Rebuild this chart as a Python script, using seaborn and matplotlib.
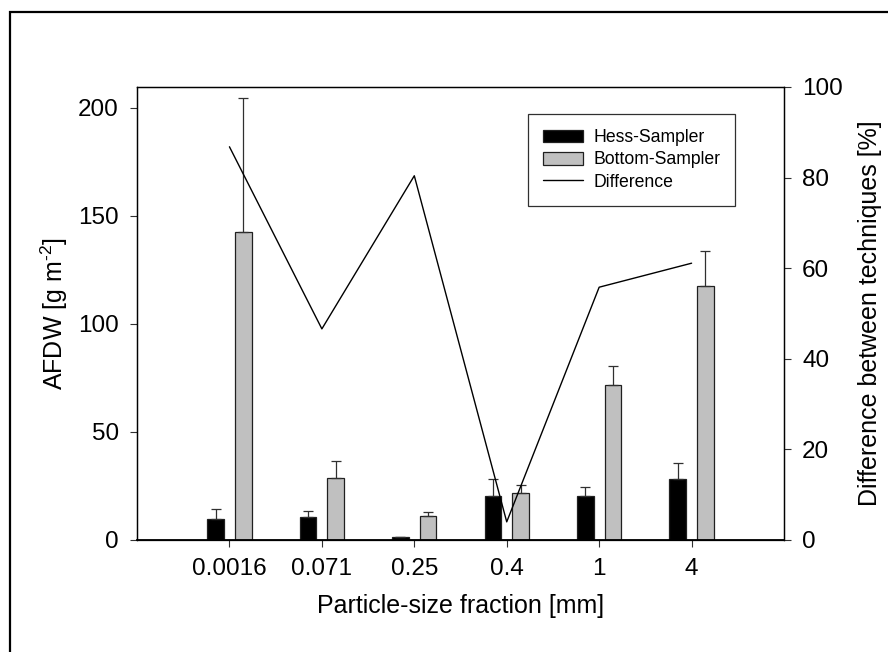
import numpy as np
import pandas as pd
import matplotlib
matplotlib.use("Agg")
import matplotlib.pyplot as plt
from matplotlib.patches import Rectangle, Patch
from matplotlib.lines import Line2D
import seaborn as sns

# Particle-size fractions (mm) and AFDW per sampler (g m^-2)
fractions = ["0.0016", "0.071", "0.25", "0.4", "1", "4"]
hess_mean = [9.7, 10.6, 1.4, 20.4, 20.4, 28.2]
hess_err = [4.6, 2.8, 0.0, 7.8, 4.1, 7.4]
bottom_mean = [142.6, 28.7, 11.1, 21.8, 71.8, 117.6]
bottom_err = [62.0, 7.9, 1.9, 3.7, 8.8, 16.2]
# Relative difference between the two techniques (%)
difference = [86.8, 46.6, 80.4, 4.0, 55.8, 61.1]

samplers = ["Hess-Sampler", "Bottom-Sampler"]
colors = ["#000000", "#c0c0c0"]

sns.set_style("ticks")
plt.rcParams["font.family"] = ["Liberation Sans", "DejaVu Sans"]
plt.rcParams["mathtext.fontset"] = "custom"
plt.rcParams["mathtext.rm"] = "Liberation Sans"
plt.rcParams["mathtext.default"] = "regular"
for key in ("text.color", "axes.labelcolor", "xtick.labelcolor", "ytick.labelcolor"):
    plt.rcParams[key] = "black"

df = pd.DataFrame({
    "fraction": fractions * 2,
    "afdw": hess_mean + bottom_mean,
    "sampler": [samplers[0]] * len(fractions) + [samplers[1]] * len(fractions),
})

fig = plt.figure(figsize=(8.88, 6.52), dpi=100)
ax = fig.add_axes([0.1543, 0.1718, 0.7286, 0.6948])

sns.barplot(data=df, x="fraction", y="afdw", hue="sampler", order=fractions,
            hue_order=samplers, palette=colors, width=0.6, gap=0.4,
            errorbar=None, edgecolor="#202020", linewidth=0.9, legend=False,
            ax=ax)

# upper error bars on each bar
for cont, errs in zip(ax.containers, [hess_err, bottom_err]):
    xs = [b.get_x() + b.get_width() / 2 for b in cont]
    hs = [b.get_height() for b in cont]
    ax.errorbar(xs, hs, yerr=[np.zeros(len(errs)), errs], fmt="none",
                ecolor="#303030", elinewidth=0.9, capsize=3.3, capthick=0.9,
                zorder=1)

ax2 = ax.twinx()
positions = np.arange(len(fractions))
sns.lineplot(x=positions, y=difference, ax=ax2, color="black", linewidth=1.0)

ax.set_xlim(-1, 6)
ax.set_ylim(0, 209.7)
ax2.set_ylim(0, 100)
ax.set_yticks([0, 50, 100, 150, 200])
ax2.set_yticks([0, 20, 40, 60, 80, 100])

fs = 18
ax.set_xlabel("Particle-size fraction [mm]", fontsize=fs, labelpad=10)
ax.set_ylabel(r"AFDW [g m$^{\text{-}2}$]", fontsize=fs, labelpad=6)
ax2.set_ylabel("Difference between techniques [%]", fontsize=fs, labelpad=11)

for a in (ax, ax2):
    a.tick_params(axis="both", direction="out", length=5, width=0.8,
                  color="#303030", labelsize=17.5, labelcolor="black", pad=8)
    for s in a.spines.values():
        s.set_visible(True)
        s.set_color("black")
        s.set_linewidth(0.9)
ax.spines["bottom"].set_linewidth(1.3)

handles = [
    Patch(facecolor=colors[0], edgecolor="#202020", linewidth=0.9, label=samplers[0]),
    Patch(facecolor=colors[1], edgecolor="#202020", linewidth=0.9, label=samplers[1]),
    Line2D([], [], color="black", linewidth=1.0, label="Difference"),
]
leg = ax2.legend(handles=handles, loc="upper left", bbox_to_anchor=(0.604, 0.94),
                 fontsize=12.7, frameon=True, fancybox=False, framealpha=1,
                 edgecolor="#303030", handlelength=2.3, handleheight=0.75,
                 borderpad=0.85, labelspacing=0.3, handletextpad=0.55,
                 borderaxespad=0)
leg.get_frame().set_linewidth(0.9)

# outer border of the figure panel
fig.patches.append(Rectangle((10 / 888, -0.2), 1.5, 0.2 + (652 - 12) / 652,
                             transform=fig.transFigure, fill=False,
                             edgecolor="black", linewidth=1.6))

fig.savefig("out.png", dpi=100)
